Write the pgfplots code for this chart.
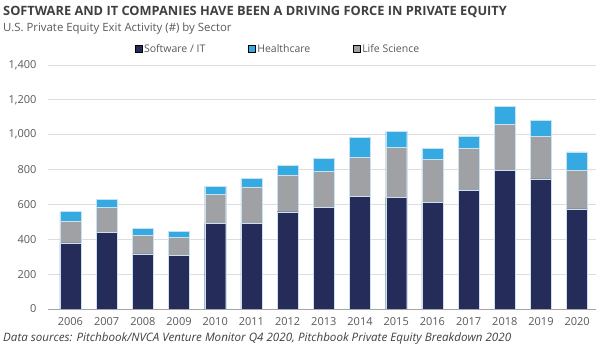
\documentclass[border=0pt]{standalone}
\usepackage{fontspec}
\setmainfont{Open Sans}
\usepackage{pgfplots}
\usepackage{pgfplotstable}
\pgfplotsset{compat=1.18}
\definecolor{sw}{HTML}{252C5A}
\definecolor{hc}{HTML}{35A9E1}
\definecolor{ls}{HTML}{A0A1A4}
\definecolor{txt}{HTML}{595959}
\definecolor{ttl}{HTML}{404040}
\definecolor{gridc}{HTML}{DDDDDD}
\definecolor{edge}{HTML}{C8E2F2}

\pgfplotstableread{
x year sw ls hc
0 2006 380 125 55
1 2007 438 145 46
2 2008 316 110 35
3 2009 306 105 33
4 2010 490 166 48
5 2011 493 207 48
6 2012 558 211 55
7 2013 585 203 78
8 2014 648 222 113
9 2015 641 288 90
10 2016 610 247 65
11 2017 681 243 69
12 2018 794 265 102
13 2019 746 243 95
14 2020 574 220 107
}\datatable

\begin{document}
\begin{tikzpicture}
\useasboundingbox (0pt,0pt) rectangle (600pt,353pt);
\node[anchor=base west, inner sep=0, text=ttl, font=\bfseries\fontsize{12.8}{15}\selectfont] at (3pt,337.3pt) {SOFTWARE AND IT COMPANIES HAVE BEEN A DRIVING FORCE IN PRIVATE EQUITY};
\node[anchor=base west, inner sep=0, text=txt, font=\fontsize{11.4}{14}\selectfont] at (3pt,321.5pt) {U.S. Private Equity Exit Activity (\#) by Sector};
\node[anchor=base west, inner sep=0, text=ttl, font=\itshape\fontsize{11.6}{13}\selectfont] at (3pt,11.5pt) {Data sources: Pitchbook/NVCA Venture Monitor Q4 2020, Pitchbook Private Equity Breakdown 2020};
\begin{axis}[
  at={(48pt,44pt)}, anchor=south west,
  scale only axis, width=548pt, height=244pt,
  ybar stacked, bar width=21pt,
  xmin=-0.62, xmax=14.52, ymin=0, ymax=1400,
  xtick={0,...,14},
  xticklabels={2006,2007,2008,2009,2010,2011,2012,2013,2014,2015,2016,2017,2018,2019,2020},
  ytick={0,200,...,1400},
  /pgf/number format/assume math mode=true,
  /pgf/number format/1000 sep={,},
  axis lines*=left,
  y axis line style={draw=none},
  x axis line style={draw=gray!70, line width=0.8pt},
  tick style={draw=none},
  ymajorgrids, grid style={gridc, line width=0.8pt},
  ticklabel style={text=txt, font=\fontsize{11}{13}\selectfont},
  yticklabel style={xshift=-8pt},
  xticklabel style={yshift=-5pt},
  legend image code/.code={\fill[#1] (0pt,-3pt) rectangle (6.5pt,3.5pt);},
  legend columns=3,
  legend style={draw=none, fill=none, at={(0.42,1)}, yshift=16pt, anchor=center,
    font=\fontsize{10.5}{12}\selectfont, text=txt,
    /tikz/every even column/.append style={column sep=41pt}},
]
\addlegendimage{fill=sw}
\addlegendentry{Software / IT}
\addlegendimage{fill=hc}
\addlegendentry{Healthcare}
\addlegendimage{fill=ls}
\addlegendentry{Life Science}
\addplot[forget plot, fill=sw, draw=edge, line width=0.4pt] table[x=x, y=sw] {\datatable};
\addplot[forget plot, fill=ls, draw=edge, line width=0.4pt] table[x=x, y=ls] {\datatable};
\addplot[forget plot, fill=hc, draw=edge, line width=0.4pt] table[x=x, y=hc] {\datatable};
\end{axis}
\end{tikzpicture}
\end{document}
